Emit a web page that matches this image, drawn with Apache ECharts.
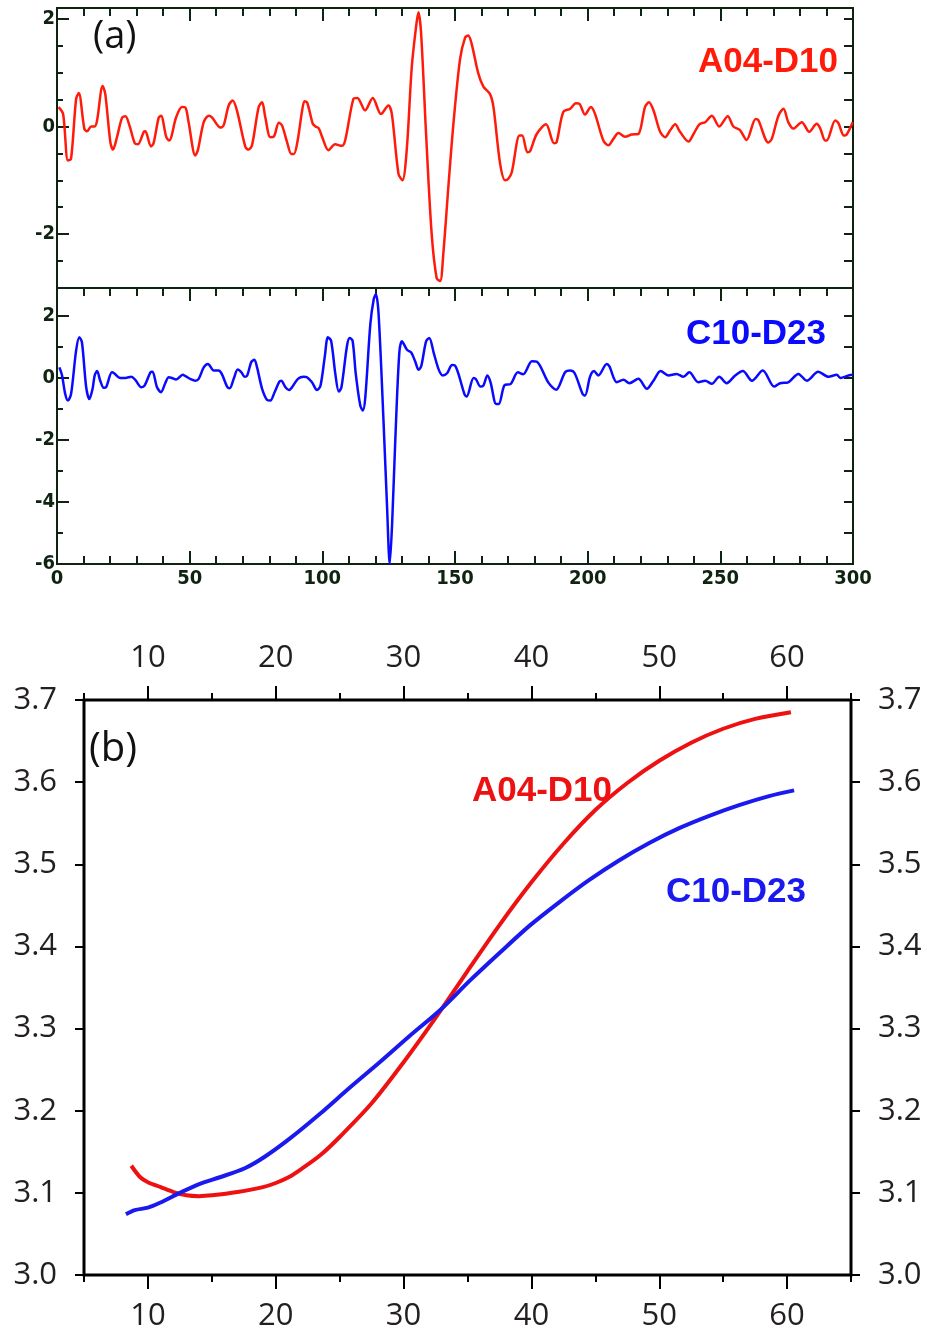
<!DOCTYPE html>
<html><head><meta charset="utf-8">
<script src="https://cdn.jsdelivr.net/npm/echarts@6/dist/echarts.min.js"></script>
<style>html,body{margin:0;padding:0;background:#fff}#c{width:930px;height:1337px}</style>
</head><body><div id="c"></div>
<script>
// ---------- Panel (a): waveforms ----------
const redTime=[0.6,2.3,4.1,5.3,7.2,8.2,10.3,11.3,12.9,14.2,15.1,17.2,18.2,20.1,21.1,22.6,24.5,25.8,27.3,29.3,30.5,32.7,33.3,35.4,36.4,38.3,39.2,41.2,42.3,44.9,47.1,48.4,49.6,52.1,53.1,55.3,57.2,58.4,61.6,62.8,64.7,66.2,67.8,71.0,72.2,73.5,76.0,77.3,78.5,80.4,81.7,83.6,84.8,86.7,88.3,89.3,90.7,92.3,93.3,94.3,96.4,97.4,98.6,99.9,102.3,104.8,107.3,108.6,111.7,113.2,116.1,119.0,122.1,124.9,126.2,128.7,130.2,131.8,133.7,135.3,136.2,137.2,139.1,141.2,143.1,144.4,145.6,147.5,149.4,151.9,153.8,155.0,156.3,158.8,160.7,163.2,164.5,167.0,168.9,170.1,171.4,174.3,175.3,177.3,178.3,180.8,184.3,187.3,188.3,190.8,193.4,195.6,196.9,199.0,201.2,202.8,205.9,207.8,209.7,211.6,214.1,216.6,219.1,221.6,223.1,224.8,227.3,229.2,231.1,233.0,234.8,238.0,239.9,242.1,244.3,246.8,249.6,252.8,254.9,257.4,259.9,263.3,264.3,268.1,269.4,271.9,273.8,275.6,277.5,280.7,283.5,286.3,287.6,289.5,290.1,293.3,294.5,296.6,297.6,299.9];
const redAmp=[0.36,0.23,-0.63,-0.6,0.51,0.62,-0.04,-0.09,0,0,0.11,0.75,0.6,-0.29,-0.43,-0.2,0.16,0.19,0.02,-0.31,-0.33,-0.1,-0.09,-0.37,-0.31,0.16,0.2,-0.2,-0.26,0.17,0.36,0.35,0.08,-0.54,-0.44,0.08,0.2,0.17,-0.02,0.02,0.39,0.48,0.3,-0.38,-0.43,-0.35,0.36,0.45,0.17,-0.2,-0.19,0.07,0.02,-0.29,-0.51,-0.51,-0.26,0.27,0.47,0.44,0.05,0,-0.03,-0.19,-0.44,-0.33,-0.36,-0.26,0.51,0.53,0.3,0.53,0.23,0.39,0.23,-0.88,-1.0,-0.44,1.1,1.84,2.12,1.75,-0.14,-1.99,-2.82,-2.87,-2.36,-1.12,0.05,1.25,1.65,1.69,1.53,0.98,0.74,0.6,0.36,-0.69,-1.0,-0.97,-0.85,-0.17,-0.17,-0.48,-0.46,-0.14,0.04,-0.31,-0.29,0.27,0.33,0.43,0.42,0.22,0.36,0.23,-0.26,-0.35,-0.23,-0.12,-0.19,-0.15,-0.14,0.36,0.45,0.3,-0.1,-0.2,-0.07,0.04,-0.1,-0.28,-0.14,0.04,0.08,0.2,0,0.19,0,-0.07,-0.25,0.14,0.12,-0.3,-0.23,0.2,0.33,0.08,-0.04,0.08,-0.1,0.05,-0.03,-0.26,-0.26,0.11,0.06,-0.17,-0.15,0.08];
const blueTime=[0.9,1.9,3.1,4.1,5.3,7.2,8.4,9.4,11.0,12.2,13.4,14.2,15.1,16.3,17.6,18.5,20.7,21.4,23.9,25.8,28.0,29.5,31.8,33.0,35.2,36.0,37.7,39.2,40.8,42.1,43.3,44.9,47.4,48.4,50.6,52.1,53.4,55.3,56.9,59.1,60.9,62.1,64.1,65.1,66.6,68.1,69.5,70.7,71.7,73.2,74.4,75.4,77.3,79.2,80.4,82.0,83.8,84.5,86.1,87.4,88.6,90.8,93.0,94.2,96.1,98.0,99.3,100.9,102.1,103.3,104.9,106.2,107.2,109.3,110.3,111.4,112.6,114.3,115.3,116.2,118.1,119.4,120.2,121.2,123.1,124.4,125.4,126.3,127.5,129.0,130.0,131.9,133.5,135.0,136.3,137.3,139.1,140.3,142.0,143.9,145.4,147.0,148.9,150.0,151.3,153.6,154.4,157.0,157.9,159.6,160.7,162.2,163.4,165.5,166.5,168.7,170.9,173.7,175.7,179.0,180.9,185.2,188.1,191.5,193.4,195.1,198.1,199.0,200.9,202.4,204.0,207.2,208.2,211.0,213.5,215.7,219.1,222.3,224.8,227.5,230.4,233.5,236.1,238.3,241.7,244.3,246.8,249.6,252.4,255.6,258.5,261.9,266.0,270.3,272.5,275.6,279.4,282.6,286.9,290.7,293.9,295.2,298.3,300.0];
const blueAmp=[0.34,0.08,-0.52,-0.73,-0.52,0.88,1.31,1.15,-0.3,-0.68,-0.35,0.08,0.22,-0.09,-0.32,-0.3,0.18,0.16,0,0,0.04,-0.06,-0.3,-0.25,0.18,0.2,-0.3,-0.46,-0.17,0.02,0,-0.05,0.1,0.06,-0.05,-0.09,-0.03,0.34,0.45,0.24,0.24,0.13,-0.28,-0.33,-0.03,0.27,0.18,0.04,0.08,0.51,0.59,0.34,-0.35,-0.71,-0.73,-0.46,-0.12,-0.09,-0.3,-0.39,-0.3,-0.03,0.04,0.02,-0.14,-0.39,-0.25,0.67,1.31,1.2,0.13,-0.44,-0.3,1.04,1.29,1.2,0.13,-0.89,-1.05,-0.62,1.74,2.55,2.7,2.06,-1.48,-4.17,-6.0,-4.7,-2.0,0.8,1.18,0.91,0.82,0.53,0.26,0.39,1.18,1.29,0.8,0.26,0.08,0.15,0.42,0.4,0.13,-0.53,-0.6,0,-0.04,-0.28,-0.25,0.08,-0.14,-0.84,-0.84,-0.23,-0.2,0.18,0.12,0.54,0.52,-0.15,-0.38,0.18,0.24,0.15,-0.52,-0.57,0.04,0.22,0.08,0.45,0.37,-0.14,-0.06,-0.17,-0.03,-0.35,-0.09,0.22,0.08,0.13,0.04,0.18,-0.14,-0.09,-0.19,0.04,-0.17,0.08,0.22,-0.09,0.24,-0.28,-0.17,-0.14,0.13,-0.09,0.2,0.04,0.1,0,0.08,0.1];
// ---------- Panel (b): dispersion curves ----------
const redPeriod=[8.7,9.4,10,11,12,13,14,15,17,19,20,21,22,23.5,25,27.5,30,32.5,35,37.5,40,42.5,45,47.5,50,52.5,55,57.5,60.3];
const redVel=[3.133,3.119,3.113,3.107,3.101,3.097,3.096,3.097,3.101,3.107,3.112,3.119,3.129,3.146,3.168,3.209,3.259,3.313,3.370,3.426,3.478,3.525,3.566,3.599,3.626,3.648,3.665,3.677,3.685];
const bluePeriod=[8.28,8.98,10.0,10.94,12.5,14.06,15.63,17.58,19.14,21.09,23.44,25.78,28.13,30.47,32.89,35.16,37.5,39.84,42.19,44.53,46.88,49.22,51.56,53.91,56.25,58.59,60.55];
const blueVel=[3.074,3.079,3.082,3.088,3.100,3.111,3.119,3.130,3.144,3.166,3.196,3.228,3.259,3.291,3.323,3.358,3.392,3.425,3.454,3.481,3.505,3.526,3.544,3.559,3.572,3.583,3.590];
// ---------- tick labels ----------
const ampTicksTop=[-2,0,2];
const ampTicksBottom=[-6,-4,-2,0,2];
const periodTicks=[10,20,30,40,50,60];

const zip=(a,b)=>a.map((v,i)=>[v,b[i]]);
const dark='#0f2410';
const smallFont="'Liberation Sans Narrow','DejaVu Sans Condensed',sans-serif";
const bigFont="'Open Sans','Noto Sans',sans-serif";

function hx(grid,pos,opt){
  const o={type:'value',gridIndex:grid,position:pos,min:opt.min,max:opt.max,
    splitLine:{show:false},axisLine:{show:false,onZero:false},
    axisTick:{show:true,inside:opt.inside,length:opt.len,lineStyle:{color:opt.color,width:opt.tw||2}},
    axisLabel:{show:!!opt.labels}};
  if(opt.interval!==undefined){o.interval=opt.interval;}
  if(opt.custom){o.axisTick.customValues=opt.custom;}
  if(opt.labels){Object.assign(o.axisLabel,opt.labels);}
  return o;
}
const aLab={color:dark,fontFamily:smallFont,fontWeight:'bold',fontSize:20,margin:5,showMinLabel:true,showMaxLabel:true};
const bLab={color:'#231f20',fontFamily:bigFont,fontSize:31,margin:26,showMinLabel:true,showMaxLabel:true};

const xAxes=[
  hx(0,'top',{min:0,max:300,interval:10,inside:true,len:8,color:dark}),
  hx(0,'top',{min:0,max:300,interval:50,inside:true,len:13,color:dark}),
  hx(1,'top',{min:0,max:300,interval:10,inside:true,len:8,color:dark}),
  hx(1,'top',{min:0,max:300,interval:50,inside:true,len:13,color:dark}),
  hx(1,'bottom',{min:0,max:300,interval:10,inside:true,len:8,color:dark}),
  hx(1,'bottom',{min:0,max:300,interval:50,inside:true,len:13,color:dark,labels:aLab}),
  hx(2,'bottom',{min:5,max:65,interval:5,inside:false,len:7,color:'#000'}),
  hx(2,'bottom',{min:5,max:65,custom:periodTicks,inside:false,len:14,color:'#000',labels:Object.assign({customValues:periodTicks},bLab)}),
  hx(2,'top',{min:5,max:65,interval:5,inside:false,len:7,color:'#000'}),
  hx(2,'top',{min:5,max:65,custom:periodTicks,inside:false,len:14,color:'#000',labels:Object.assign({customValues:periodTicks},bLab)})
];
const yAxes=[
  hx(0,'left',{min:-3,max:2.2,interval:0.5,inside:true,len:6,color:dark}),
  hx(0,'left',{min:-3,max:2.2,custom:ampTicksTop,inside:true,len:12,color:dark,labels:Object.assign({customValues:ampTicksTop},aLab,{margin:2})}),
  hx(0,'right',{min:-3,max:2.2,interval:0.5,inside:true,len:9,color:dark}),
  hx(1,'left',{min:-6,max:2.9,interval:1,inside:true,len:6,color:dark}),
  hx(1,'left',{min:-6,max:2.9,custom:ampTicksBottom,inside:true,len:12,color:dark,labels:Object.assign({customValues:ampTicksBottom},aLab,{margin:2})}),
  hx(1,'right',{min:-6,max:2.9,interval:1,inside:true,len:9,color:dark}),
  hx(2,'left',{min:3.0,max:3.7,interval:0.1,inside:false,len:9,color:'#000',labels:Object.assign({formatter:v=>v.toFixed(1)},bLab,{margin:27})}),
  hx(2,'right',{min:3.0,max:3.7,interval:0.1,inside:false,len:9,color:'#000',labels:Object.assign({formatter:v=>v.toFixed(1)},bLab,{margin:27})})
];

const chart=echarts.init(document.getElementById('c'));
chart.setOption({
  animation:false,
  backgroundColor:'#fff',
  grid:[
    {left:57,top:8,width:796,height:280,show:true,borderColor:dark,borderWidth:2,backgroundColor:'transparent'},
    {left:57,top:288,width:796,height:276,show:true,borderColor:dark,borderWidth:2,backgroundColor:'transparent'},
    {left:84,top:700,width:767,height:575,show:true,borderColor:'#000',borderWidth:3,backgroundColor:'transparent'}
  ],
  xAxis:xAxes,
  yAxis:yAxes,
  series:[
    {type:'line',xAxisIndex:0,yAxisIndex:0,data:zip(redTime,redAmp),symbol:'none',smooth:0.3,lineStyle:{color:'#ff1a0a',width:2.5}},
    {type:'line',xAxisIndex:2,yAxisIndex:3,data:zip(blueTime,blueAmp),symbol:'none',smooth:0.3,lineStyle:{color:'#0a0aff',width:2.5}},
    {type:'line',xAxisIndex:6,yAxisIndex:6,data:zip(redPeriod,redVel),symbol:'none',smooth:0.3,lineStyle:{color:'#ee1111',width:4}},
    {type:'line',xAxisIndex:6,yAxisIndex:6,data:zip(bluePeriod,blueVel),symbol:'none',smooth:0.3,lineStyle:{color:'#1a1aee',width:4}}
  ],
  graphic:[
    {type:'text',x:93,y:37,style:{text:'(a)',fill:'#111',font:"38px "+bigFont,textVerticalAlign:'middle'}},
    {type:'text',x:838,y:62,style:{text:'A04-D10',fill:'#ff1a0a',font:"bold 35px 'Liberation Sans',Arial,sans-serif",textAlign:'right',textVerticalAlign:'middle'}},
    {type:'text',x:826,y:334,style:{text:'C10-D23',fill:'#0a0aff',font:"bold 35px 'Liberation Sans',Arial,sans-serif",textAlign:'right',textVerticalAlign:'middle'}},
    {type:'text',x:89,y:750,style:{text:'(b)',fill:'#111',font:"40px "+bigFont,textVerticalAlign:'middle'}},
    {type:'text',x:612,y:791,style:{text:'A04-D10',fill:'#ee1111',font:"bold 35px 'Liberation Sans',Arial,sans-serif",textAlign:'right',textVerticalAlign:'middle'}},
    {type:'text',x:806,y:892,style:{text:'C10-D23',fill:'#1a1aee',font:"bold 35px 'Liberation Sans',Arial,sans-serif",textAlign:'right',textVerticalAlign:'middle'}}
  ]
});
</script>
</body></html>
